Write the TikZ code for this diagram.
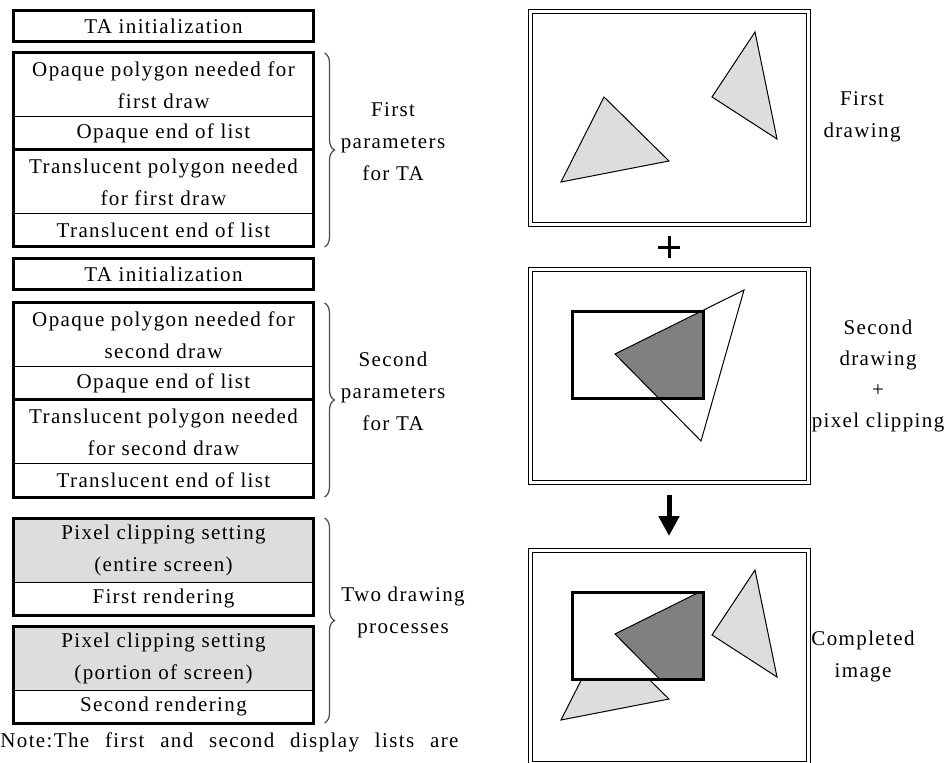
\documentclass[tikz,border=0pt]{standalone}
\usepackage{fontspec}
\setmainfont{Liberation Serif}[LetterSpace=6.5]
\usetikzlibrary{arrows.meta,positioning,calc,decorations.pathreplacing}
\definecolor{lightfill}{HTML}{DDDDDD}
\definecolor{darkfill}{HTML}{808080}

\begin{document}
\begin{tikzpicture}[
  x=0.5pt, y=-0.5pt,
  font=\fontsize{10.5}{16}\selectfont,
  node distance=0pt,
  cell/.style={draw, line width=0.5pt, outer sep=0pt, inner sep=0pt, align=center,
               minimum width=150pt, minimum height=16.5pt},
  cell2/.style={cell, minimum height=32pt},
  tabox/.style={cell, line width=1.5pt, minimum height=15.5pt},
  shaded/.style={fill=lightfill},
  group/.style={line width=1.5pt},
  brc/.style={decorate, decoration={brace, amplitude=5pt}, draw=black!70, line width=0.6pt},
  lbl/.style={align=center, inner sep=0pt},
  frame/.style={draw, double, line width=0.5pt, double distance=1.5pt, outer sep=0pt,
                inner sep=0pt, minimum width=139pt, minimum height=106.5pt},
  tri/.style={draw, line width=0.5pt},
  clipbox/.style={draw, line width=1.5pt},
  arr/.style={-{Triangle[length=10pt, width=10pt]}, line width=2.5pt}
]
\useasboundingbox (0,0) rectangle (951,763);

\node[tabox] (ta1) at (163.5,26.5) {TA initialization};
\node[cell2, below=5.5pt of ta1] (op1) {Opaque polygon needed for\\first draw};
\node[cell, below=of op1] (ope1) {Opaque end of list};
\node[cell2, below=of ope1] (tr1) {Translucent polygon needed\\for first draw};
\node[cell, below=of tr1] (tre1) {Translucent end of list};
\draw[group] (op1.north west) rectangle (tre1.south east);
\draw[group] (ope1.south west) -- (ope1.south east);

\node[tabox, below=6pt of tre1] (ta2) {TA initialization};
\node[cell2, below=6.5pt of ta2] (op2) {Opaque polygon needed for\\second draw};
\node[cell, below=of op2] (ope2) {Opaque end of list};
\node[cell2, below=of ope2] (tr2) {Translucent polygon needed\\for second draw};
\node[cell, below=of tr2] (tre2) {Translucent end of list};
\draw[group] (op2.north west) rectangle (tre2.south east);
\draw[group] (ope2.south west) -- (ope2.south east);

\node[cell2, shaded, below=10.5pt of tre2] (px1) {Pixel clipping setting\\(entire screen)};
\node[cell, below=of px1] (rn1) {First rendering};
\draw[group] (px1.north west) rectangle (rn1.south east);
\node[cell2, shaded, below=5.5pt of rn1] (px2) {Pixel clipping setting\\(portion of screen)};
\node[cell, below=of px2] (rn2) {Second rendering};
\draw[group] (px2.north west) rectangle (rn2.south east);

\draw[brc] ([xshift=5.5pt]op1.north east) -- ([xshift=5.5pt]tre1.south east);
\draw[brc] ([xshift=5.5pt]op2.north east) -- ([xshift=5.5pt]tre2.south east);
\draw[brc] ([xshift=5.5pt]px1.north east) -- ([xshift=5.5pt]rn2.south east);
\node[lbl] (lab1) at (393,142) {First\\parameters\\for TA};
\node[lbl] (lab2) at (393,391) {Second\\parameters\\for TA};
\node[lbl] (lab3) at (403,612) {Two drawing\\processes};

\node[lbl, anchor=west] (note) at (0,742)
  {\makebox[229pt][s]{Note:The first and second display lists are}};

\node[frame] (frm1) at (669,118.5) {};
\node[frame] (frm2) at (669,376.5) {};
\node[frame] (frm3) at (669,656.5) {};

\begin{scope}[shift={(frm1.north west)}]
  \filldraw[tri, fill=lightfill] (74,85) -- (139,149) -- (31,170) -- cycle;
  \filldraw[tri, fill=lightfill] (225,20) -- (182,85) -- (247,127) -- cycle;
\end{scope}

\begin{scope}[shift={(frm2.north west)}]
  \begin{scope}
    \clip (42,42) rectangle (173,129);
    \fill[darkfill] (214,20) -- (85,84) -- (171,171) -- cycle;
  \end{scope}
  \draw[tri] (214,20) -- (85,84) -- (171,171) -- cycle;
  \draw[clipbox] (42,42) rectangle (173,129);
\end{scope}

\begin{scope}[shift={(frm3.north west)}]
  \filldraw[tri, fill=lightfill] (74,85) -- (139,149) -- (31,170) -- cycle;
  \filldraw[tri, fill=lightfill] (225,20) -- (182,85) -- (247,127) -- cycle;
  \fill[white] (42,42) rectangle (173,129);
  \begin{scope}
    \clip (42,42) rectangle (173,129);
    \filldraw[tri, fill=darkfill] (214,20) -- (85,84) -- (171,171) -- cycle;
  \end{scope}
  \draw[clipbox] (42,42) rectangle (173,129);
\end{scope}

\node[lbl] (cap1) at (862,117) {First\\drawing};
\node[lbl, font=\fontsize{10.5}{15.5}\selectfont] (cap2) at (878,376) {Second\\drawing\\+\\pixel clipping};
\node[lbl] (cap3) at (863,656) {Completed\\image};

\coordinate (plus) at ($(frm1.south)!0.5!(frm2.north)$);
\draw[line width=1.5pt] ([xshift=-5.5pt]plus) -- ([xshift=5.5pt]plus)
  ([yshift=-5.5pt]plus) -- ([yshift=5.5pt]plus);
\draw[arr, shorten <=6pt, shorten >=7pt] (frm2) -- (frm3);
\end{tikzpicture}
\end{document}
